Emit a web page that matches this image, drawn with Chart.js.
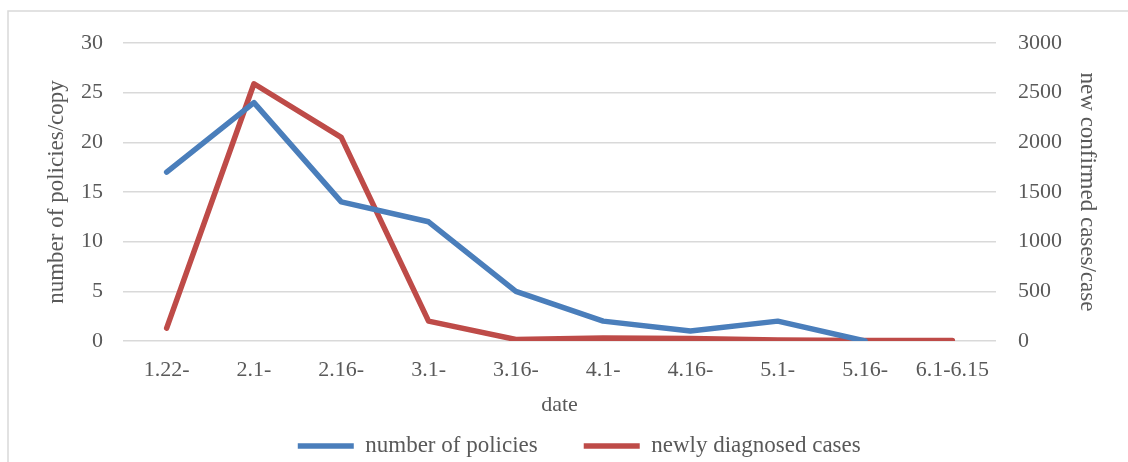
<!DOCTYPE html>
<html><head><meta charset="utf-8">
<script src="https://cdn.jsdelivr.net/npm/chart.js@4"></script>
<style>html,body{margin:0;padding:0;background:#fff}</style>
</head><body>
<canvas id="c" width="1128" height="462"></canvas>
<script>
const categories = ['1.22-','2.1-','2.16-','3.1-','3.16-','4.1-','4.16-','5.1-','5.16-','6.1-6.15'];
const policies = [17,24,14,12,5,2,1,2,0,null];
const newCases = [130,2590,2050,200,15,30,25,10,5,5];
const leftAxis = {min:0, max:30, step:5, title:'number of policies/copy'};
const rightAxis = {min:0, max:3000, step:500, title:'new confirmed cases/case'};
const xTitle = 'date';
const seriesNames = ['number of policies','newly diagnosed cases'];

const FONT = '"Liberation Serif", "Times New Roman", serif';
const TXT = '#595959';

const borderPlugin = {
  id:'frame',
  beforeDraw(chart){
    const c = chart.ctx;
    c.save();
    c.fillStyle = '#fff';
    c.fillRect(0,0,chart.width,chart.height);
    c.strokeStyle = '#d9d9d9';
    c.lineWidth = 1.5;
    c.strokeRect(8, 11, 1300, 700);
    c.restore();
  }
};

new Chart(document.getElementById('c'), {
  type:'line',
  data:{
    labels: categories,
    datasets:[
      {label:seriesNames[0], data:policies, yAxisID:'y', borderColor:'#4A7EBB', backgroundColor:'#4A7EBB',
       borderWidth:5.5, pointRadius:0, tension:0, borderCapStyle:'round', borderJoinStyle:'round', spanGaps:false},
      {label:seriesNames[1], data:newCases, yAxisID:'y1', borderColor:'#BE4B48', backgroundColor:'#BE4B48',
       borderWidth:5.5, pointRadius:0, tension:0, borderCapStyle:'round', borderJoinStyle:'round'}
    ]
  },
  options:{
    responsive:false,
    devicePixelRatio:1,
    animation:false,
    layout:{padding:{left:30.5, top:43, right:0, bottom:0}},
    plugins:{
      tooltip:{enabled:false},
      legend:{
        position:'bottom',
        maxHeight:73.5,
        labels:{
          usePointStyle:true, pointStyle:'line', pointStyleWidth:56,
          padding:46, color:TXT,
          font:{family:FONT, size:23}
        }
      }
    },
    scales:{
      x:{
        offset:true,
        grid:{display:false, drawTicks:false},
        border:{display:false},
        ticks:{color:TXT, padding:15.8, maxRotation:0, autoSkip:false, font:{family:FONT, size:22}},
        title:{display:true, text:xTitle, color:TXT, font:{family:FONT, size:22}, padding:{top:0, bottom:-29.7}},
        afterFit(s){ s.height = 47.5; }
      },
      y:{
        position:'left',
        min:leftAxis.min, max:leftAxis.max,
        grid:{color:'#d9d9d9', lineWidth:1.5, drawTicks:false},
        border:{display:false},
        ticks:{stepSize:leftAxis.step, color:TXT, padding:20, font:{family:FONT, size:22},
               callback:(v)=>String(v)},
        title:{display:true, text:leftAxis.title, color:TXT, font:{family:FONT, size:23}, padding:{top:12.7, bottom:0}},
        afterFit(s){ s.width = 92.5; }
      },
      y1:{
        position:'right',
        min:rightAxis.min, max:rightAxis.max,
        grid:{display:false, drawTicks:false},
        border:{display:false},
        ticks:{stepSize:rightAxis.step, color:TXT, padding:22, font:{family:FONT, size:22},
               callback:(v)=>String(v)},
        title:{display:true, text:rightAxis.title, color:TXT, font:{family:FONT, size:23}, padding:{top:27.2, bottom:0}},
        afterFit(s){ s.width = 132; }
      }
    }
  },
  plugins:[borderPlugin]
});
</script>
</body></html>
